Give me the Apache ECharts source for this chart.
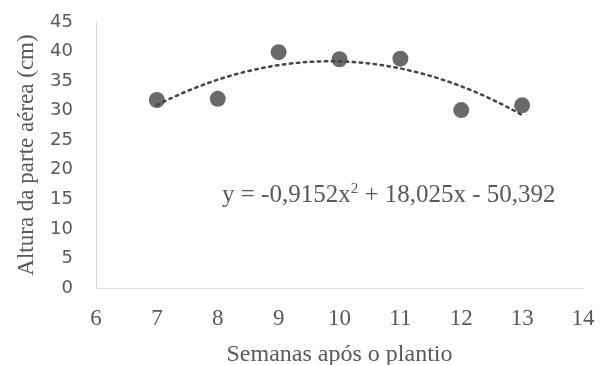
<!DOCTYPE html>
<html><head><meta charset="utf-8">
<script src="https://cdn.jsdelivr.net/npm/echarts@6/dist/echarts.min.js"></script>
<style>html,body{margin:0;padding:0;background:#fff}#c{width:606px;height:365px}</style>
</head><body><div id="c"></div>
<script>
var weeks = [7, 8, 9, 10, 11, 12, 13];
var heights = [31.8, 32.0, 39.9, 38.7, 38.8, 30.1, 30.9];
var trendCoef = [-0.9152, 18.025, -50.392]; // polynomial trendline y = a x^2 + b x + c
var xTicks = [6, 7, 8, 9, 10, 11, 12, 13, 14];
var yTicks = [0, 5, 10, 15, 20, 25, 30, 35, 40, 45];

var trend = [];
for (var i = 0; i <= 60; i++) {
  var x = 7 + i * 0.1;
  trend.push([x, trendCoef[0] * x * x + trendCoef[1] * x + trendCoef[2]]);
}

var chart = echarts.init(document.getElementById('c'));
chart.setOption({
  animation: false,
  grid: {left: 96, right: 23, top: 22, bottom: 77, containLabel: false, outerBoundsMode: 'none'},
  xAxis: {
    type: 'value', min: xTicks[0], max: xTicks[xTicks.length - 1], interval: 1,
    name: 'Semanas após o plantio', nameLocation: 'middle', nameGap: 55,
    nameTextStyle: {fontFamily: 'Liberation Serif', fontSize: 24, color: '#595959'},
    axisLine: {lineStyle: {color: '#d9d9d9', width: 1}},
    axisTick: {show: false}, splitLine: {show: false},
    axisLabel: {fontFamily: 'Liberation Serif', fontSize: 23, color: '#595959', margin: 19}
  },
  yAxis: {
    type: 'value', min: yTicks[0], max: yTicks[yTicks.length - 1], interval: 5,
    name: 'Altura da parte aérea (cm)', nameLocation: 'middle', nameGap: 58,
    nameTextStyle: {fontFamily: 'Liberation Serif', fontSize: 23, color: '#595959'},
    axisLine: {show: true, lineStyle: {color: '#d9d9d9', width: 1}},
    axisTick: {show: false}, splitLine: {show: false},
    axisLabel: {fontFamily: 'DejaVu Sans', fontSize: 18, color: '#595959', margin: 23}
  },
  graphic: [{
    type: 'text', left: 222, top: 182,
    style: {
      rich: {
        n: {fontFamily: 'Liberation Serif', fontSize: 25, fill: '#595959'},
        s: {fontFamily: 'Liberation Serif', fontSize: 15, fill: '#595959', verticalAlign: 'top', padding: [0, 0, 12, 0]}
      },
      text: '{n|y = -0,9152x}{s|2}{n| + 18,025x - 50,392}'
    }
  }],
  series: [
    {type: 'line', data: trend, showSymbol: false, symbol: 'none',
     lineStyle: {color: '#454545', width: 2.5, type: [2.5, 4.5], cap: 'round'}, z: 1},
    {type: 'scatter', data: weeks.map(function (w, i) { return [w, heights[i]]; }),
     symbol: 'circle', symbolSize: 16, itemStyle: {color: '#454545'}, z: 2}
  ]
});
</script></body></html>
